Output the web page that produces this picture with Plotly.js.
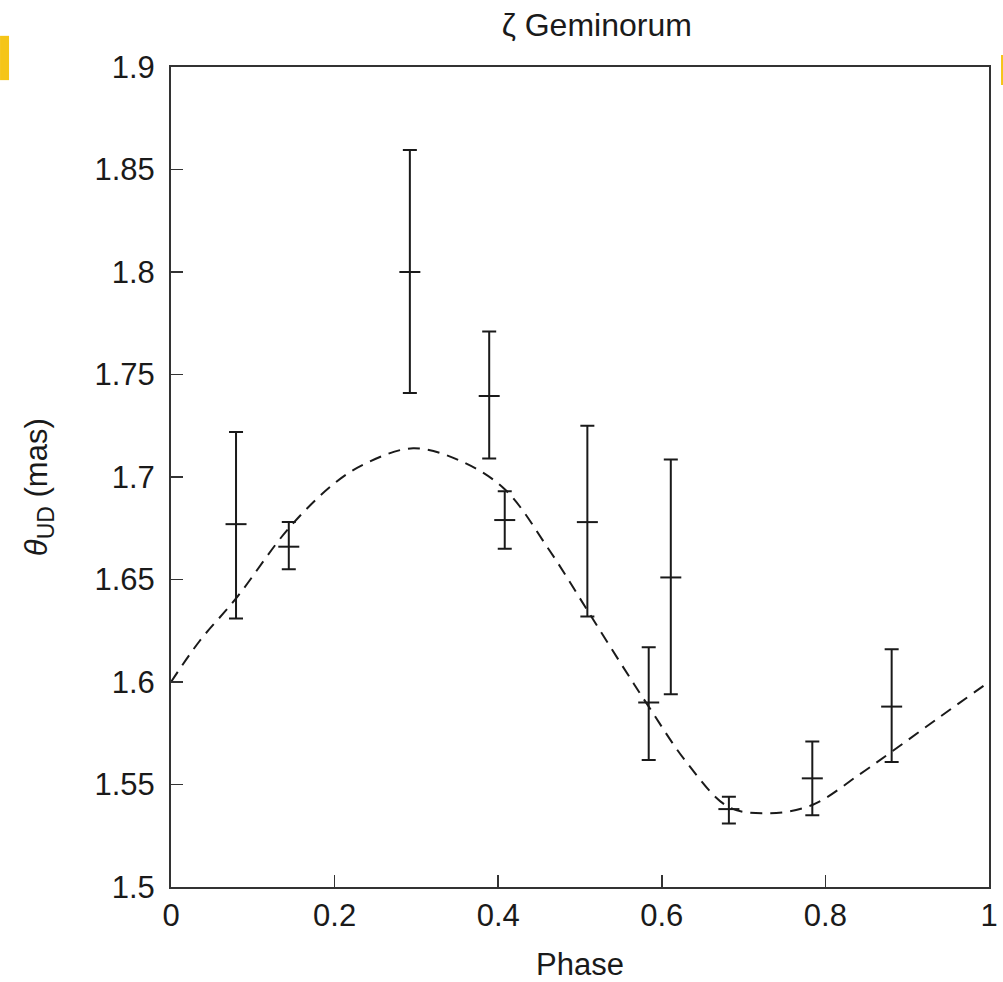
<!DOCTYPE html>
<html>
<head>
<meta charset="utf-8">
<script src="https://cdn.plot.ly/plotly-3.0.1.min.js"></script>
<style>html,body{margin:0;padding:0;background:#fff;}#chart{width:1003px;height:982px;}</style>
</head>
<body>
<div id="chart"></div>
<script>
// Measurements (phase, angular diameter, error bars)
const phase = [0.0795, 0.144, 0.292, 0.389, 0.408, 0.509, 0.584, 0.611, 0.682, 0.784, 0.881];
const theta = [1.677, 1.666, 1.800, 1.7395, 1.679, 1.678, 1.590, 1.651, 1.538, 1.553, 1.588];
const errUp = [0.045, 0.012, 0.0595, 0.0315, 0.014, 0.047, 0.027, 0.0575, 0.006, 0.018, 0.028];
const errDown = [0.046, 0.011, 0.059, 0.0305, 0.014, 0.046, 0.028, 0.057, 0.007, 0.018, 0.027];

// Model curve (dashed)
const modelPhase = [0, 0.035, 0.08, 0.144, 0.2, 0.24, 0.296, 0.353, 0.408, 0.463, 0.509, 0.55, 0.584, 0.63, 0.682, 0.732, 0.784, 0.842, 0.881, 0.94, 1.0];
const modelTheta = [1.600, 1.620, 1.641, 1.675, 1.697, 1.707, 1.714, 1.708, 1.694, 1.664, 1.635, 1.609, 1.588, 1.561, 1.539, 1.536, 1.540, 1.555, 1.566, 1.583, 1.600];

const xTicks = [0, 0.2, 0.4, 0.6, 0.8, 1];
const xTickText = ['0', '0.2', '0.4', '0.6', '0.8', '1'];
const yTicks = [1.5, 1.55, 1.6, 1.65, 1.7, 1.75, 1.8, 1.85, 1.9];
const yTickText = ['1.5', '1.55', '1.6', '1.65', '1.7', '1.75', '1.8', '1.85', '1.9'];

const titleText = 'ζ Geminorum';
const xTitle = 'Phase';
const yTitle = '<i>θ</i><sub><span style="font-size:23px">UD</span></sub> (mas)';

const font = 'Liberation Sans, Arial, Helvetica, sans-serif';
const ink = '#1a1a1a';

const traces = [
  {
    x: modelPhase, y: modelTheta, type: 'scatter', mode: 'lines',
    line: {color: ink, width: 2, dash: '12px,8px', shape: 'spline', smoothing: 1},
    hoverinfo: 'skip'
  },
  {
    x: phase, y: theta, type: 'scatter', mode: 'markers',
    marker: {symbol: 'line-ew-open', size: 15, color: ink, line: {color: ink, width: 2}},
    error_y: {type: 'data', symmetric: false, array: errUp, arrayminus: errDown,
              color: ink, thickness: 2, width: 7}
  }
];

const layout = {
  width: 1003, height: 982,
  margin: {l: 171, r: 14, t: 67, b: 95},
  paper_bgcolor: '#fff', plot_bgcolor: '#fff',
  showlegend: false,
  font: {family: font, color: ink, size: 31},
  title: {text: titleText, font: {family: font, size: 32, color: ink},
          x: 0.595, xref: 'container', xanchor: 'center', y: 0.975, yref: 'container', yanchor: 'middle'},
  xaxis: {
    range: [0, 1], tickvals: xTicks, ticktext: xTickText,
    ticks: 'inside', ticklen: 12, tickwidth: 1.5, tickcolor: '#333',
    showline: true, linecolor: '#333', linewidth: 2, mirror: true,
    showgrid: false, zeroline: false, automargin: false,
    tickfont: {family: font, size: 31, color: ink},
    ticklabelstandoff: 0,
    title: {text: xTitle, font: {family: font, size: 31, color: ink}, standoff: 24}
  },
  yaxis: {
    range: [1.5, 1.9], tickvals: yTicks, ticktext: yTickText,
    ticks: 'inside', ticklen: 12, tickwidth: 1.5, tickcolor: '#333',
    showline: true, linecolor: '#333', linewidth: 2, mirror: true,
    showgrid: false, zeroline: false, automargin: false,
    tickfont: {family: font, size: 31, color: ink},
    ticklabelstandoff: 8
  },
  annotations: [
    {text: yTitle, xref: 'paper', yref: 'paper', x: -0.161, y: 0.488,
     xanchor: 'center', yanchor: 'middle', textangle: -90, showarrow: false,
     font: {family: font, size: 31, color: ink}}
  ],
  shapes: [
    {type: 'rect', xref: 'paper', yref: 'paper', x0: -0.209, x1: -0.198, y0: 0.984, y1: 1.038,
     fillcolor: '#f5c518', line: {width: 0}, layer: 'above'},
    {type: 'rect', xref: 'paper', yref: 'paper', x0: 1.0147, x1: 1.018, y0: 0.978, y1: 1.0146,
     fillcolor: '#f5c518', line: {width: 0}, layer: 'above'}
  ]
};

Plotly.newPlot('chart', traces, layout, {displayModeBar: false, staticPlot: true});
</script>
</body>
</html>
